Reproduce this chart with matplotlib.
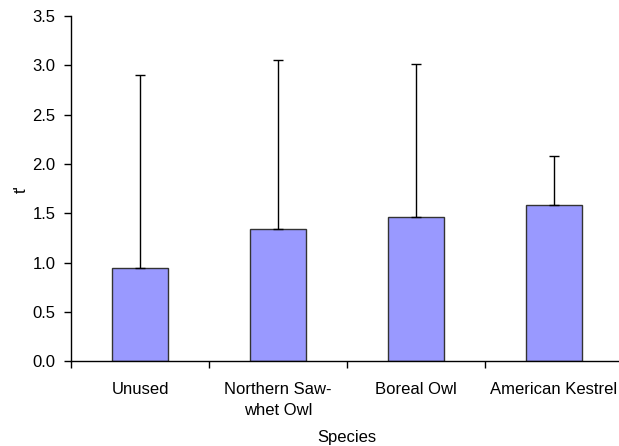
import matplotlib.pyplot as plt
import numpy as np

plt.rcParams['font.family'] = ['Liberation Sans', 'DejaVu Sans']

# data
species = ['Unused', 'Northern Saw-\nwhet Owl', 'Boreal Owl', 'American Kestrel']
t_mean = [0.95, 1.34, 1.46, 1.59]
t_upper = [2.90, 3.05, 3.01, 2.08]   # top of the error bar

x = np.arange(len(species))
err_up = np.array(t_upper) - np.array(t_mean)
yerr = [np.zeros(len(species)), err_up]

fig = plt.figure(figsize=(6.19, 4.46), dpi=100)
ax = fig.add_axes([0.1147, 0.1895, 0.8918, 0.7745])

ax.bar(x, t_mean, width=0.4, color='#9999FF', edgecolor='#333333', linewidth=1.0, zorder=2)
ax.errorbar(x, t_mean, yerr=yerr, fmt='none', ecolor='black', elinewidth=1.0,
            capsize=3.5, capthick=1.0, zorder=3)

ax.set_xlim(-0.5, len(species) - 0.5)
ax.set_ylim(0, 3.5)
ax.set_yticks(np.arange(0, 3.51, 0.5))
ax.set_yticklabels([f'{v:.1f}' for v in np.arange(0, 3.51, 0.5)])

# category labels centred, ticks between categories
ax.set_xticks(x)
ax.set_xticklabels(species, linespacing=1.45)
ax.tick_params(axis='x', which='major', length=0, pad=15)
ax.set_xticks(np.arange(-0.5, len(species), 1.0), minor=True)
ax.tick_params(axis='x', which='minor', length=5, width=1, direction='out')
ax.tick_params(axis='y', length=5, width=1, direction='out', pad=6)
ax.tick_params(labelsize=12)

for s in ['top', 'right']:
    ax.spines[s].set_visible(False)
for s in ['left', 'bottom']:
    ax.spines[s].set_linewidth(1.0)
    ax.spines[s].set_color('black')

ax.set_xlabel('Species', fontsize=12, labelpad=9)
ax.set_ylabel("t'", fontsize=12, labelpad=3)

plt.savefig('out.png', dpi=100)
